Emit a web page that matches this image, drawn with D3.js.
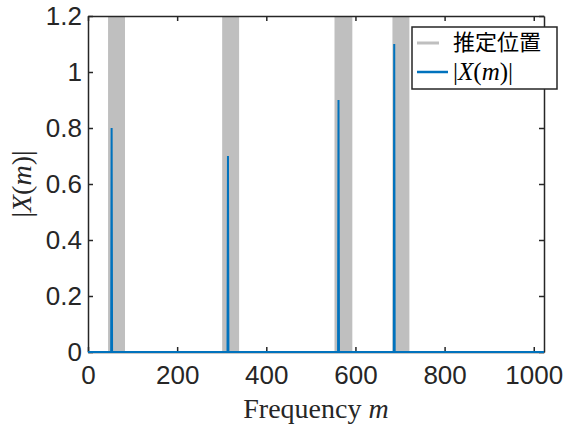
<!DOCTYPE html>
<html>
<head>
<meta charset="utf-8">
<script src="https://cdn.jsdelivr.net/npm/d3@7"></script>
<style>
  body { margin: 0; background: #fff; }
  svg { display: block; }
</style>
</head>
<body>
<div id="chart"></div>
<script>
// detected spectral peaks
const peakM = [53, 314, 562, 687];
const peakAmp = [0.8, 0.7, 0.9, 1.1];
// estimated position bands (start / end bin)
const bandStart = [45, 301, 553, 683];
const bandEnd = [83, 339, 593, 721];
const xTicks = [0, 200, 400, 600, 800, 1000];
const yTicks = [0, 0.2, 0.4, 0.6, 0.8, 1, 1.2];
const mMax = 1023;

const width = 566;
const height = 428;
const margin = { top: 16, left: 88, right: 22, bottom: 76 };
const axisColor = '#262626';
const blue = '#0072BD';
const gray = '#BFBFBF';
const sansFont = '"Liberation Sans", Arial, sans-serif';
const serifFont = '"Liberation Serif", "DejaVu Serif", serif';

const svg = d3.select('#chart').append('svg')
    .attr('width', width)
    .attr('height', height);

const x = d3.scaleLinear([0, mMax], [margin.left, width - margin.right]);
const y = d3.scaleLinear([0, 1.2], [height - margin.bottom, margin.top]);

svg.append('defs').append('clipPath')
    .attr('id', 'clip')
  .append('rect')
    .attr('x', x(0))
    .attr('y', y(1.2) - 1)
    .attr('width', x(mMax) - x(0))
    .attr('height', y(0) - y(1.2) + 2);

const plot = svg.append('g').attr('clip-path', 'url(#clip)');

// gray bands
plot.selectAll('rect.band')
  .data(d3.range(bandStart.length))
  .join('rect')
    .attr('class', 'band')
    .attr('x', i => x(bandStart[i]))
    .attr('width', i => x(bandEnd[i]) - x(bandStart[i]))
    .attr('y', y(1.2))
    .attr('height', y(0) - y(1.2))
    .attr('fill', gray);

// spectrum line: zero everywhere except the peaks
const pts = [[0, 0]];
peakM.forEach((m, i) => {
  pts.push([m - 1, 0], [m, peakAmp[i]], [m + 1, 0]);
});
pts.push([mMax, 0]);

plot.append('path')
    .datum(pts)
    .attr('fill', 'none')
    .attr('stroke', blue)
    .attr('stroke-width', 2)
    .attr('d', d3.line().x(d => x(d[0])).y(d => y(d[1])));

// axes (box with inward ticks)
const tickLen = 5;
const xAxis = d3.axisBottom(x).tickValues(xTicks).tickSizeInner(-tickLen).tickSizeOuter(0).tickPadding(14)
    .tickFormat(d3.format('d'));
const yAxis = d3.axisLeft(y).tickValues(yTicks).tickSizeInner(-tickLen).tickSizeOuter(0).tickPadding(6)
    .tickFormat(d => d3.format('~g')(d));
const xTop = d3.axisTop(x).tickValues(xTicks).tickSizeInner(-tickLen).tickSizeOuter(0).tickFormat('');
const yRight = d3.axisRight(y).tickValues(yTicks).tickSizeInner(-tickLen).tickSizeOuter(0).tickFormat('');

function styleAxis(g) {
  g.selectAll('path').attr('stroke', axisColor).attr('stroke-width', 1.5);
  g.selectAll('line').attr('stroke', axisColor).attr('stroke-width', 1.5);
  g.selectAll('text')
      .attr('fill', axisColor)
      .style('font-family', sansFont)
      .style('font-size', '26px');
}

svg.append('g').attr('transform', `translate(0,${y(0)})`).call(xAxis).call(styleAxis);
svg.append('g').attr('transform', `translate(${x(0)},0)`).call(yAxis).call(styleAxis);
svg.append('g').attr('transform', `translate(0,${y(1.2)})`).call(xTop).call(styleAxis);
svg.append('g').attr('transform', `translate(${x(mMax)},0)`).call(yRight).call(styleAxis);

// redraw the zero-level line over the bottom axis like MATLAB does
svg.append('line')
    .attr('x1', x(0)).attr('x2', x(mMax))
    .attr('y1', y(0)).attr('y2', y(0))
    .attr('stroke', blue)
    .attr('stroke-width', 2);

// axis labels
const xLabel = svg.append('text')
    .attr('x', (x(0) + x(mMax)) / 2)
    .attr('y', 418)
    .attr('text-anchor', 'middle')
    .style('font-family', serifFont)
    .style('font-size', '28px')
    .attr('fill', axisColor);
xLabel.append('tspan').text('Frequency ');
xLabel.append('tspan').style('font-style', 'italic').text('m');

const yLabel = svg.append('text')
    .attr('transform', `translate(31,${(y(0) + y(1.2)) / 2}) rotate(-90)`)
    .attr('text-anchor', 'middle')
    .style('font-family', serifFont)
    .style('font-size', '28px')
    .attr('fill', axisColor);
yLabel.append('tspan').text('|');
yLabel.append('tspan').style('font-style', 'italic').text('X');
yLabel.append('tspan').text('(');
yLabel.append('tspan').style('font-style', 'italic').text('m');
yLabel.append('tspan').text(')|');

// legend
const legend = svg.append('g').attr('transform', 'translate(412,27)');
legend.append('rect')
    .attr('width', 145)
    .attr('height', 62)
    .attr('fill', '#fff')
    .attr('stroke', axisColor)
    .attr('stroke-width', 1.5);

legend.append('line')
    .attr('x1', 5).attr('x2', 27).attr('y1', 16).attr('y2', 16)
    .attr('stroke', gray).attr('stroke-width', 3);
legend.append('text')
    .attr('x', 41).attr('y', 23)
    .style('font-family', '"Noto Sans CJK JP", sans-serif')
    .style('font-size', '22px')
    .attr('fill', '#000')
    .text('推定位置');

legend.append('line')
    .attr('x1', 5).attr('x2', 36).attr('y1', 45).attr('y2', 45)
    .attr('stroke', blue).attr('stroke-width', 2.5);
const legText = legend.append('text')
    .attr('x', 41).attr('y', 53)
    .style('font-family', serifFont)
    .style('font-size', '25px')
    .attr('fill', '#000');
legText.append('tspan').text('|');
legText.append('tspan').style('font-style', 'italic').text('X');
legText.append('tspan').text('(');
legText.append('tspan').style('font-style', 'italic').text('m');
legText.append('tspan').text(')|');
</script>
</body>
</html>
